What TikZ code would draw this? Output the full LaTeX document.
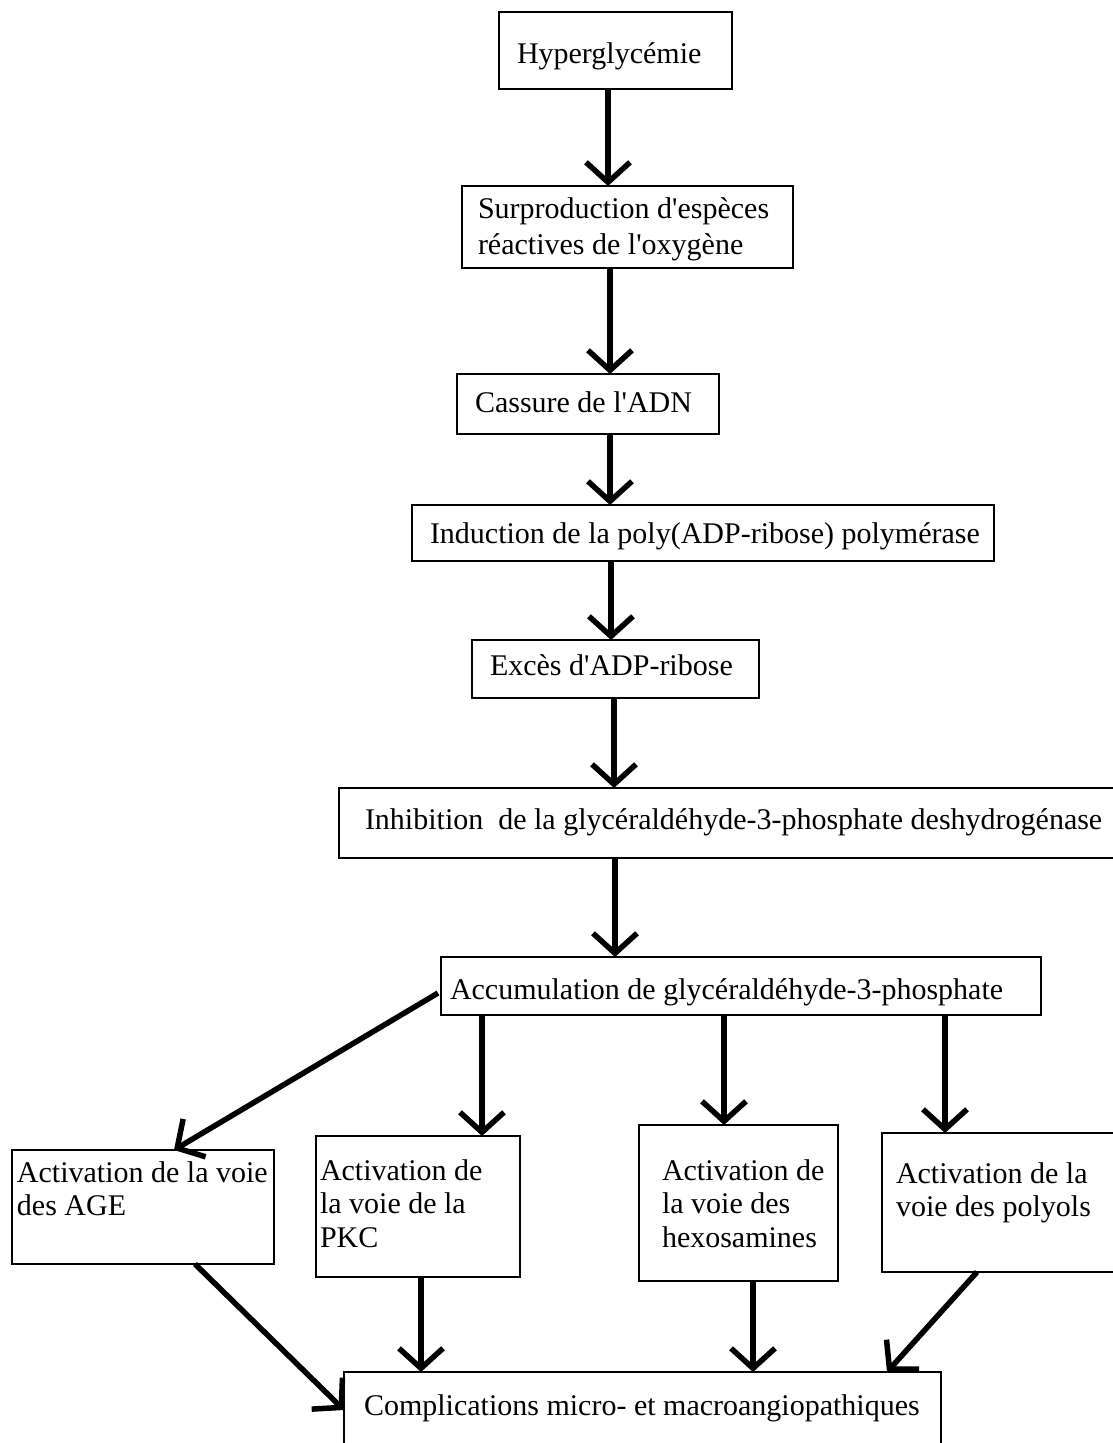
\documentclass[tikz,border=0pt]{standalone}
\usepackage{fontspec}
\setmainfont{Liberation Serif}[Ligatures=TeXOff]
\usetikzlibrary{arrows.meta,calc}
\newcommand\boxtext[5]{\parbox[c][#2pt][t]{#1pt}{\raggedright\leftskip=#3pt\relax\vspace*{#4pt}\rule{0pt}{22pt}#5}}
\begin{document}
\begin{tikzpicture}[x=1pt,y=-1pt,
  box/.style={draw, line width=2.5pt, inner sep=0pt, outer sep=0pt, anchor=north west,
              font=\fontsize{30}{33.5}\selectfont},
  arr/.style={line width=5.5pt, -{Straight Barb[length=20pt,width=44pt]}}]
\fill[white] (0,0) rectangle (1112,1443);
\useasboundingbox (0,0) rectangle (1112,1443);

\node[box] (hyp) at (499,12) {\boxtext{233}{77}{18}{29}{\mbox{Hyperglycémie}}};
\node[box] (sur) at (462,186) {\boxtext{331}{82}{16}{10}{\fontsize{30}{36}\selectfont\mbox{Surproduction d'espèces}\\\mbox{réactives de l'oxygène}}};
\node[box] (cas) at (457,374) {\boxtext{262}{60}{18}{16}{\mbox{Cassure de l'ADN}}};
\node[box] (ind) at (412,505) {\boxtext{582}{56}{18}{16}{\mbox{Induction de la poly(ADP-ribose) polymérase}}};
\node[box] (exc) at (472,640) {\boxtext{287}{58}{18}{13}{\mbox{Excès d'ADP-ribose}}};
\node[box] (inh) at (339,788) {\boxtext{790}{70}{26}{19}{\mbox{Inhibition\ \ de la glycéraldéhyde-3-phosphate deshydrogénase}}};
\node[box] (acc) at (441,957) {\boxtext{600}{58}{9}{20}{\mbox{Accumulation de glycéraldéhyde-3-phosphate}}};
\node[box] (age) at (12,1150) {\boxtext{262}{114}{5}{10}{\mbox{Activation de la voie}\\\mbox{des AGE}}};
\node[box] (pkc) at (316,1136) {\boxtext{204}{141}{4}{22}{\mbox{Activation de}\\\mbox{la voie de la}\\\mbox{PKC}}};
\node[box] (hex) at (639,1125) {\boxtext{199}{156}{23}{33}{\mbox{Activation de}\\\mbox{la voie des}\\\mbox{hexosamines}}};
\node[box] (pol) at (882,1133) {\boxtext{245}{139}{14}{28}{\mbox{Activation de la}\\\mbox{voie des polyols}}};
\node[box] (com) at (344,1372) {\boxtext{597}{90}{20}{21}{\mbox{Complications micro- et macroangiopathiques}}};

\draw[arr] ([xshift=109pt]hyp.south west) -- ([xshift=146pt]sur.north west);
\draw[arr] ([xshift=148pt]sur.south west) -- ([xshift=153pt]cas.north west);
\draw[arr] ([xshift=153pt]cas.south west) -- ([xshift=198pt]ind.north west);
\draw[arr] ([xshift=199pt]ind.south west) -- ([xshift=139pt]exc.north west);
\draw[arr] ([xshift=142pt]exc.south west) -- ([xshift=275pt]inh.north west);
\draw[arr] ([xshift=276pt]inh.south west) -- ([xshift=174pt]acc.north west);
\draw[arr] ($(acc.north west)+(-3,36)$) -- ([xshift=162pt]age.north west);
\draw[arr] ([xshift=41pt]acc.south west) -- ([xshift=166pt]pkc.north west);
\draw[arr] ([xshift=283pt]acc.south west) -- ([xshift=85pt]hex.north west);
\draw[arr] ([xshift=504pt]acc.south west) -- ([xshift=63pt]pol.north west);
\draw[arr] ([xshift=183pt]age.south west) -- ([yshift=-38pt]com.north west);
\draw[arr] ([xshift=105pt]pkc.south west) -- ([xshift=77pt]com.north west);
\draw[arr] ([xshift=114pt]hex.south west) -- ([xshift=409pt]com.north west);
\draw[arr] ([xshift=95pt]pol.south west) -- ([xshift=543pt]com.north west);
\end{tikzpicture}
\end{document}
